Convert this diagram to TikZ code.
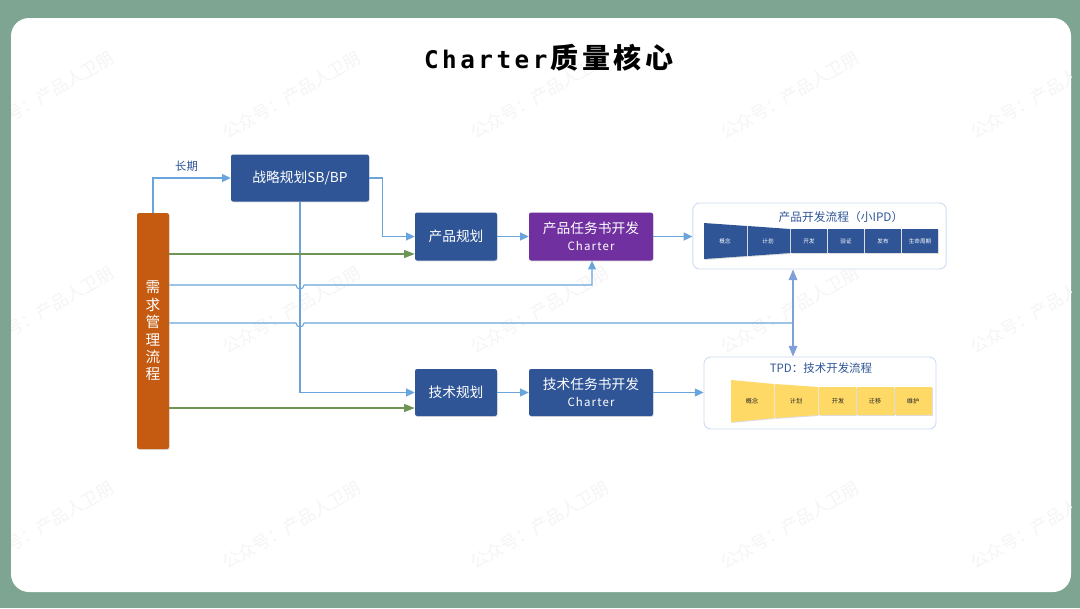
\documentclass[tikz,border=0pt]{standalone}
\usepackage{fontspec}
\setmainfont{Noto Sans CJK SC}
\newfontfamily\monof{DejaVu Sans Mono}
\usetikzlibrary{arrows.meta,shadows}
\definecolor{bggreen}{RGB}{126,165,145}
\definecolor{boxblue}{RGB}{47,85,151}
\definecolor{orangebox}{RGB}{197,90,17}
\definecolor{purplebox}{RGB}{112,48,160}
\definecolor{linkblue}{RGB}{105,165,220}
\definecolor{linkgreen}{RGB}{84,130,53}
\definecolor{updown}{RGB}{127,160,216}
\definecolor{framec}{RGB}{205,220,243}
\definecolor{yel}{RGB}{255,217,102}
\definecolor{wm}{RGB}{245,245,245}
\definecolor{txtblue}{RGB}{47,85,151}
\tikzset{
  x=0.75pt,y=-0.75pt,
  softshadow/.style={drop shadow={shadow xshift=0.5pt,shadow yshift=-0.7pt,opacity=0.22,fill=black!60}},
  procbox/.style={draw=none,fill=boxblue,rounded corners=1.6pt,text=white,align=center,inner sep=0pt,softshadow,font=\fontsize{10.3}{13.5}\selectfont},
  panel/.style={draw=framec,fill=white,line width=0.7pt,rounded corners=5pt,inner sep=0pt},
  link/.style={draw=linkblue,line width=0.8pt,-{Triangle[length=6.5pt,width=6pt]}},
  linkplain/.style={draw=linkblue,line width=0.8pt},
  glink/.style={draw=linkgreen!85!white,line width=0.9pt,-{Triangle[length=8pt,width=6pt]}},
  vlink/.style={draw=updown,line width=0.9pt,-{Triangle[length=8pt,width=6.5pt]}},
  bluestep/.style={fill=boxblue,draw=none,softshadow},
  yelstep/.style={fill=yel,draw=none,softshadow},
  bluelabel/.style={text=white,font=\fontsize{4.2}{5}\selectfont,inner sep=0pt},
  yellabel/.style={text=black!85,font=\fontsize{4.6}{5}\selectfont,inner sep=0pt},
  wmtext/.style={text=wm,rotate=30,font=\fontsize{13}{15}\selectfont,inner sep=0pt},
}
\begin{document}
\begin{tikzpicture}
\useasboundingbox (0,0) rectangle (1080,608);
\fill[bggreen] (0,0) rectangle (1080,608);
\fill[white,rounded corners=13.5pt] (11,18) rectangle (1071,592);
% watermarks
\begin{scope}
\clip[rounded corners=13.5pt] (11,18) rectangle (1071,592);
\foreach \wy in {95,310,525}{
  \foreach \wx in {45,292,540,790,1040}{
    \node[wmtext] at (\wx,\wy) {公众号：产品人卫朋};
  }
}
\end{scope}
% title
\node[inner sep=0pt] (title) at (549,58) {{\fontsize{18.2}{22}\monof\bfseries\addfontfeatures{LetterSpace=14.5}Charter}\hspace{2pt}{\fontsize{21}{24}\selectfont\bfseries\addfontfeatures{LetterSpace=14}质量核心}};
% panels
\node[panel,minimum width=190pt,minimum height=49.5pt] (ipd) at (819.5,236) {};
\node[panel,minimum width=174pt,minimum height=54pt] (tpd) at (820,393) {};
\node[inner sep=0pt,text=txtblue,font=\fontsize{8.8}{10}\selectfont] (ipdt) at (841,217) {产品开发流程（小IPD）};
\node[inner sep=0pt,text=txtblue,font=\fontsize{8.6}{10}\selectfont] (tpdt) at (821,368) {TPD：技术开发流程};
% main boxes
\node[procbox,fill=orangebox,minimum width=24pt,minimum height=177pt] (req) at (153,331) {};
\node[text=white,inner sep=0pt,align=center,font=\fontsize{11}{13.1}\selectfont] (reqt) at (153,331) {需\\求\\管\\理\\流\\程};
\node[procbox,minimum width=103.5pt,minimum height=35.25pt] (sb) at (300,178) {战略规划SB/BP};
\node[procbox,minimum width=61.5pt,minimum height=36pt] (pp) at (456,236.5) {产品规划};
\node[procbox,fill=purplebox,minimum width=93pt,minimum height=36pt] (pc) at (591,236.5) {产品任务书开发\\[-1pt]{\fontsize{8.6}{10}\selectfont\addfontfeatures{LetterSpace=10}Charter}};
\node[procbox,minimum width=61.5pt,minimum height=35.25pt] (tp) at (456,392.5) {技术规划};
\node[procbox,minimum width=93pt,minimum height=35.25pt] (tc) at (591,392.5) {技术任务书开发\\[-1pt]{\fontsize{8.6}{10}\selectfont\addfontfeatures{LetterSpace=10}Charter}};
% IPD steps
\path[bluestep] (704,223) -- (747,226) -- (747,256) -- (704,259) -- cycle;
\path[bluestep] (748,226) -- (790,229) -- (790,253) -- (748,256) -- cycle;
\path[bluestep] (791,229) rectangle (827,253);
\path[bluestep] (828,229) rectangle (864,253);
\path[bluestep] (865,229) rectangle (901,253);
\path[bluestep] (902,229) rectangle (938,253);
\node[bluelabel] (i1) at (725,241) {概念};
\node[bluelabel] (i2) at (768,241) {计划};
\node[bluelabel] (i3) at (809,241) {开发};
\node[bluelabel] (i4) at (846,241) {验证};
\node[bluelabel] (i5) at (883,241) {发布};
\node[bluelabel] (i6) at (920,241) {生命周期};
% TPD steps
\path[yelstep] (731,380) -- (774,384) -- (774,418) -- (731,422) -- cycle;
\path[yelstep] (775,384) -- (818,387) -- (818,415) -- (775,418) -- cycle;
\path[yelstep] (819,387) rectangle (856,415);
\path[yelstep] (857,387) rectangle (894,415);
\path[yelstep] (895,387) rectangle (932,415);
\node[yellabel] (t1) at (752,401) {概念};
\node[yellabel] (t2) at (796,401) {计划};
\node[yellabel] (t3) at (838,401) {开发};
\node[yellabel] (t4) at (875,401) {迁移};
\node[yellabel] (t5) at (913,401) {维护};
% connectors
\coordinate (hub) at (793,323);
\coordinate (hopA) at (296,285);
\coordinate (hopB) at (296,323);
\coordinate (pcIn) at (592,285);
\draw[link] (req.north) |- (sb.west);
\draw[link] (sb.east) -- ++(13,0) |- (pp.west);
\draw[link] (pp.east) -- (pc.west);
\draw[link] (pc.east) -- (pc.east -| ipd.west);
\draw[link] (tp.east) -- (tc.west);
\draw[link] (tc.east) -- (tc.east -| tpd.west);
\draw[link] (sb.south) |- (tp.west);
\draw[glink] (req.east |- 0,254) -- (pp.west |- 0,254);
\draw[glink] (req.east |- 0,408) -- (tp.west |- 0,408);
% crossing lines with hops over the vertical
\draw[link] (req.east |- hopA) -- (hopA) arc[start angle=180,end angle=0,radius=4] -- (pcIn) -- (pcIn |- pc.south);
\draw[linkplain] (req.east |- hopB) -- (hopB) arc[start angle=180,end angle=0,radius=4] -- (hub);
\draw[vlink] (hub) -- (hub |- ipd.south);
\draw[vlink] (hub) -- (hub |- tpd.north);
\node[inner sep=0pt,text=txtblue,font=\fontsize{8.5}{10}\selectfont] (cq) at (186.5,166) {长期};
\end{tikzpicture}
\end{document}
